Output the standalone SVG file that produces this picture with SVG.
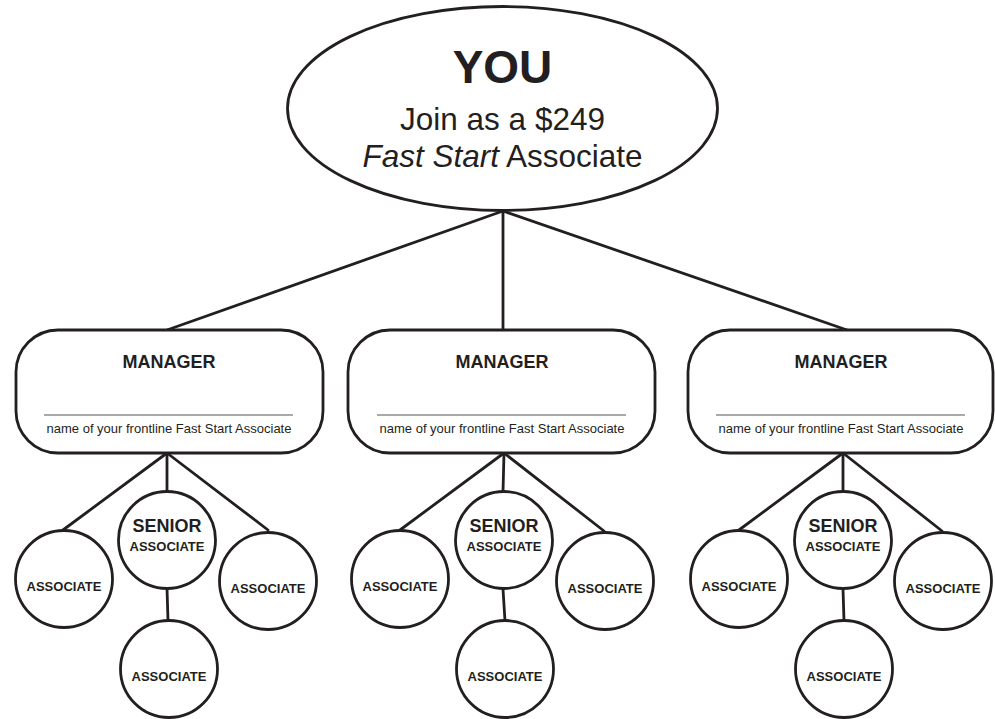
<svg xmlns="http://www.w3.org/2000/svg" width="995" height="719" viewBox="0 0 995 719">
<style>
.shape{fill:#fff;stroke:#231f20;stroke-width:2.8}
.conn line{stroke:#231f20;stroke-width:2.8;stroke-linecap:round}
text{font-family:"Liberation Sans",Arial,sans-serif;fill:#231f20;text-anchor:middle}
.big{font-size:46px;font-weight:bold}
.mid{font-size:31.5px}
.mgr{font-size:18px;font-weight:bold}
.sub{font-size:13px}
.sen{font-size:18px;font-weight:bold}
.as{font-size:13px;font-weight:bold}
.ul{stroke:#555;stroke-width:1}
</style>
<rect width="995" height="719" fill="#fff"/>
<g id="connectors" class="conn">
<line x1="503" y1="211" x2="167" y2="330"/>
<line x1="503" y1="211" x2="503" y2="330"/>
<line x1="503" y1="211" x2="847" y2="330"/>
<line x1="167" y1="453" x2="63" y2="530"/>
<line x1="167" y1="453" x2="167" y2="491"/>
<line x1="167" y1="453" x2="268" y2="530"/>
<line x1="167" y1="588" x2="168" y2="621"/>
<line x1="504" y1="453" x2="400" y2="530"/>
<line x1="504" y1="453" x2="503" y2="492"/>
<line x1="504" y1="453" x2="604" y2="531"/>
<line x1="503" y1="589" x2="505" y2="621"/>
<line x1="843" y1="453" x2="739" y2="530"/>
<line x1="843" y1="453" x2="843" y2="492"/>
<line x1="843" y1="453" x2="942" y2="531"/>
<line x1="843" y1="589" x2="844" y2="621"/>
</g>
<g id="you">
<ellipse class="shape" cx="502.5" cy="108.5" rx="215" ry="102"/>
<text class="big" x="502.5" y="83">YOU</text>
<text class="mid" x="502.5" y="130">Join as a $249</text>
<text class="mid" x="502.5" y="167"><tspan font-style="italic">Fast Start</tspan> Associate</text>
</g>
<g id="manager1">
<rect class="shape" x="16" y="330" width="307" height="123" rx="42" ry="42"/>
<text class="mgr" x="169" y="368">MANAGER</text>
<line class="ul" x1="44" y1="415" x2="293" y2="415"/>
<text class="sub" x="169" y="433">name of your frontline Fast Start Associate</text>
</g>
<g id="manager2">
<rect class="shape" x="348" y="330" width="307" height="123" rx="42" ry="42"/>
<text class="mgr" x="502" y="368">MANAGER</text>
<line class="ul" x1="377" y1="415" x2="626" y2="415"/>
<text class="sub" x="502" y="433">name of your frontline Fast Start Associate</text>
</g>
<g id="manager3">
<rect class="shape" x="688" y="330" width="305" height="123" rx="42" ry="42"/>
<text class="mgr" x="841" y="368">MANAGER</text>
<line class="ul" x1="716" y1="415" x2="965" y2="415"/>
<text class="sub" x="841" y="433">name of your frontline Fast Start Associate</text>
</g>
<g id="c1-left"><circle class="shape" cx="64" cy="579" r="48.5"/><text class="as" x="64" y="591">ASSOCIATE</text></g>
<g id="c1-senior"><circle class="shape" cx="167" cy="540" r="48.5"/><text class="sen" x="167" y="532">SENIOR</text><text class="as" x="167" y="551">ASSOCIATE</text></g>
<g id="c1-right"><circle class="shape" cx="268" cy="581" r="48.5"/><text class="as" x="268" y="593">ASSOCIATE</text></g>
<g id="c1-bottom"><circle class="shape" cx="169" cy="669" r="48.5"/><text class="as" x="169" y="681">ASSOCIATE</text></g>
<g id="c2-left"><circle class="shape" cx="400" cy="579" r="48.5"/><text class="as" x="400" y="591">ASSOCIATE</text></g>
<g id="c2-senior"><circle class="shape" cx="504" cy="540" r="48.5"/><text class="sen" x="504" y="532">SENIOR</text><text class="as" x="504" y="551">ASSOCIATE</text></g>
<g id="c2-right"><circle class="shape" cx="605" cy="581" r="48.5"/><text class="as" x="605" y="593">ASSOCIATE</text></g>
<g id="c2-bottom"><circle class="shape" cx="505" cy="669" r="48.5"/><text class="as" x="505" y="681">ASSOCIATE</text></g>
<g id="c3-left"><circle class="shape" cx="739" cy="579" r="48.5"/><text class="as" x="739" y="591">ASSOCIATE</text></g>
<g id="c3-senior"><circle class="shape" cx="843" cy="540" r="48.5"/><text class="sen" x="843" y="532">SENIOR</text><text class="as" x="843" y="551">ASSOCIATE</text></g>
<g id="c3-right"><circle class="shape" cx="943" cy="581" r="48.5"/><text class="as" x="943" y="593">ASSOCIATE</text></g>
<g id="c3-bottom"><circle class="shape" cx="844" cy="669" r="48.5"/><text class="as" x="844" y="681">ASSOCIATE</text></g>
</svg>
